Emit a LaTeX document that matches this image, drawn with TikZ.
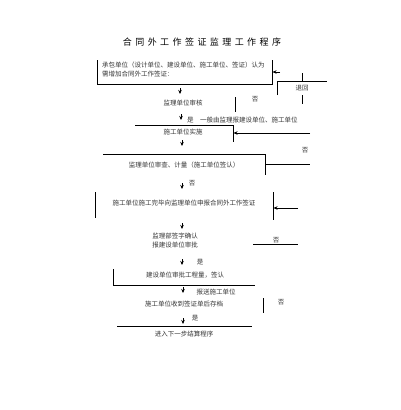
\documentclass[tikz,border=0pt]{standalone}
\usepackage{fontspec}
\newfontfamily\cjk{Noto Sans CJK SC}
\newfontfamily\cjktitle[LetterSpace=38]{Noto Sans CJK SC}
\usetikzlibrary{arrows.meta}

\begin{document}
\begin{tikzpicture}[x=1pt, y=-1pt,
    every node/.style={inner sep=0pt, text=black!80, font=\cjk\fontsize{6.5}{9}\selectfont},
    rule/.style={line width=0.8pt},
    arr/.style={-{Stealth[length=4pt,width=3.5pt]}, line width=0.6pt}]
                \useasboundingbox (0,0) rectangle (400,410);

                % Title
                \node[text=black, font=\cjktitle\fontsize{9}{11}\selectfont] (title) at (202,42) {合同外工作签证监理工作程序};

                % Step nodes
                \node[anchor=west, align=left] (apply) at (102,69) {承包单位（设计单位、建设单位、施工单位、签证）认为\\需增加合同外工作签证：};
                \node (check) at (183,103) {监理单位审核};
                \node (back) at (302,88) {退回};
                \node (no1) at (255,99) {否};
                \node[anchor=west] (notify) at (187,120) {是\quad 一般由监理报建设单位、施工单位};
                \node (impl) at (183,132) {施工单位实施};
                \node (measure) at (184,165) {监理单位审查、计量（施工单位签认）};
                \node (no2) at (305,150) {否};
                \node (no3) at (192,183) {否};
                \node (report) at (184,203) {施工单位施工完毕向监理单位申报合同外工作签证};
                \node[align=center] (sign) at (175,241) {监理部签字确认\\报建设单位审批};
                \node (no4) at (276,240) {否};
                \node (yes1) at (200,262) {是};
                \node (approve) at (185,275) {建设单位审批工程量，签认};
                \node (send) at (216,292) {报送施工单位};
                \node (file) at (184,304) {施工单位收到签证单后存档};
                \node (no5) at (281,302) {否};
                \node (yes2) at (195,318) {是};
                \node (next) at (184,334) {进入下一步结算程序};

                % Frame lines
                \draw[rule] (97,60) -- (97,84) -- (272,84) -- (272,60);
                \draw[rule] (302,73) -- (302,81);
                \draw[rule] (277,95) -- (277,81) -- (327,81);
                \draw[rule] (235,97) -- (235,112);
                \draw[rule] (302,95) -- (302,104);
                \draw[rule] (135,125) -- (233,125) -- (233,142);
                \draw[rule] (103,154) -- (265,154) -- (265,175);
                \draw[rule] (265,164) -- (310,164);
                \draw[rule] (95,192) -- (95,218);
                \draw[rule] (273,192) -- (273,220);
                \draw[rule] (253,244) -- (298,244);
                \draw[rule] (113,269) -- (113,285) -- (255,285);
                \draw[rule] (263,298) -- (263,313);
                \draw[rule] (117,326) -- (252,326);

                % Return arrows
                \coordinate (r1) at (280,72);
                \coordinate (r2) at (310,133);
                \coordinate (r3) at (298,208);
                \draw[arr] (r1) -- (272.5,72);
                \draw[rule, arr] (r2) -- (233.5,133);
                \draw[rule, arr] (r3) -- (273.5,208);

                % Down arrows
                \coordinate (d1) at (180,88);
                \coordinate (d2) at (181,114);
                \coordinate (d3) at (182,140);
                \coordinate (d4) at (182,183);
                \coordinate (d5) at (182,223);
                \coordinate (d6) at (182,259);
                \coordinate (d7) at (183,287);
                \coordinate (d8) at (183,318);
                \draw[arr] (d1) -- ++(0,6);
                \draw[arr] (d2) -- ++(0,6);
                \draw[arr] (d3) -- ++(0,6);
                \draw[arr] (d4) -- ++(0,6);
                \draw[arr] (d5) -- ++(0,6);
                \draw[arr] (d6) -- ++(0,6);
                \draw[arr] (d7) -- ++(0,6);
                \draw[arr] (d8) -- ++(0,6);
            \end{tikzpicture}
\end{document}
